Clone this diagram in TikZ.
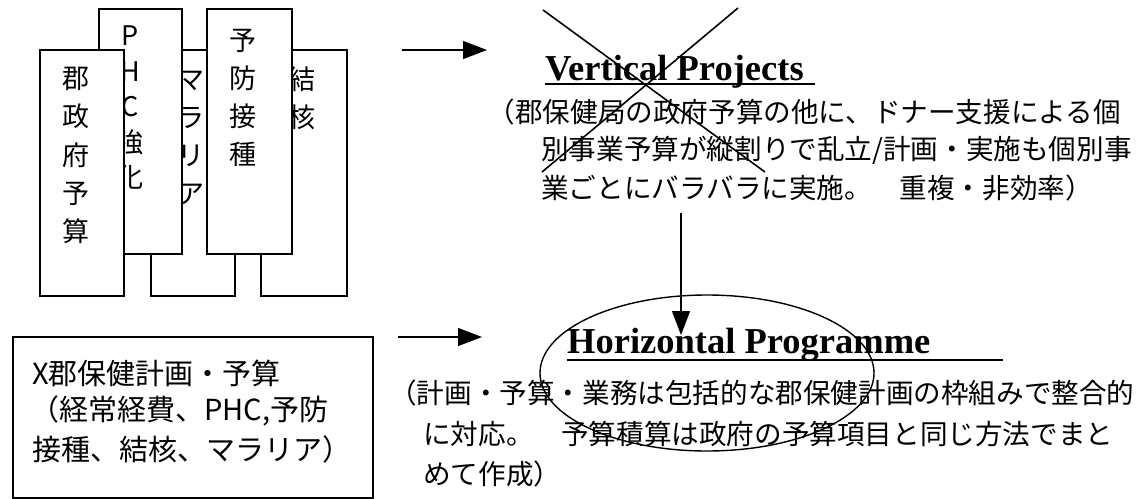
\documentclass[tikz,border=0pt]{standalone}
\usepackage{fontspec}
\setmainfont{Liberation Serif}
\newfontfamily\jp{Noto Sans CJK JP}
\usetikzlibrary{arrows.meta,shapes.geometric}
\begin{document}
\begin{tikzpicture}[x=1pt,y=-1pt,
  panel/.style={draw, line width=1.6pt, fill=white, inner sep=0pt, anchor=north west},
  vtext/.style={inner sep=0pt, align=center, font=\jp\fontsize{27}{38}\selectfont},
  jtext/.style={inner sep=0pt, anchor=west, font=\jp\fontsize{27.6}{30}\selectfont},
  btext/.style={inner sep=0pt, anchor=west, font=\jp\fontsize{29}{32}\selectfont},
  title/.style={inner sep=0pt, anchor=base west, font=\fontsize{36.5}{40}\selectfont\bfseries},
  uline/.style={line width=1.5pt},
  arr/.style={line width=1.3pt, -{Triangle[length=24pt,width=18pt]}},
  crossline/.style={line width=1.6pt}]
\useasboundingbox (0,0) rectangle (1148,498);

% back boxes
\node[panel, minimum width=84pt, minimum height=246pt] (mal) at (150,49) {};
\node[vtext] (maltx) at (191,137.5) {マ\\ラ\\リ\\ア};
\node[panel, minimum width=86pt, minimum height=246pt] (kek) at (260,49) {};
\node[vtext] (kektx) at (302,98) {結\\核};
% middle boxes
\node[panel, minimum width=83pt, minimum height=245pt] (phc) at (98,8) {};
\node[vtext, font=\jp\fontsize{27}{35.5}\selectfont] (phctx) at (130,108) {P\\H\\C\\強\\化};
\node[panel, minimum width=85pt, minimum height=245pt] (yob) at (206,8) {};
\node[vtext] (yobtx) at (243,98) {予\\防\\接\\種};
% front box
\node[panel, minimum width=84pt, minimum height=246pt] (gun) at (39,49) {};
\node[vtext, font=\jp\fontsize{27}{38.25}\selectfont] (guntx) at (76,155.5) {郡\\政\\府\\予\\算};

% bottom-left box
\node[panel, minimum width=360pt, minimum height=161pt] (plan) at (12,336) {};
\node[btext] (bx1) at (32,373) {X郡保健計画・予算};
\node[btext] (bx2) at (30,411) {（経常経費、PHC,予防};
\node[btext] (bx3) at (32,449) {接種、結核、マラリア）};

% arrows from left
\coordinate (a1s) at (402,50);
\coordinate (a1e) at (487,50);
\draw[arr] (a1s) -- (a1e);
\coordinate (a2s) at (398,337);
\coordinate (a2e) at (482,337);
\draw[arr] (a2s) -- (a2e);

% Vertical projects
\node[title] (vt) at (545,80) {Vertical Projects};
\draw[uline] (545,84) -- (815,84);
\node[jtext] (v1) at (487.4,112) {（郡保健局の政府予算の他に、ドナー支援による個};
\node[jtext] (v2) at (541,150) {別事業予算が縦割りで乱立/計画・実施も個別事};
\node[jtext] (v3) at (541,188) {業ごとにバラバラに実施。　重複・非効率）};
% cross out
\draw[crossline] (543,10) -- (765,172);
\draw[crossline] (738,8) -- (542,172);

% vertical arrow
\coordinate (a3s) at (681,213);
\coordinate (a3e) at (681,335);
\draw[arr] (a3s) -- (a3e);

% Horizontal programme
\node[title] (ht) at (567,353) {Horizontal Programme};
\draw[uline] (567,360) -- (1003,360);
\node[jtext] (h1) at (389,393) {（計画・予算・業務は包括的な郡保健計画の枠組みで整合的};
\node[jtext] (h2) at (423,434) {に対応。　予算積算は政府の予算項目と同じ方法でまと};
\node[jtext] (h3) at (423,474) {めて作成）};
\node[draw, ellipse, line width=1.4pt, minimum width=334pt, minimum height=156pt, inner sep=0pt] (ell) at (707,373) {};
\end{tikzpicture}
\end{document}
